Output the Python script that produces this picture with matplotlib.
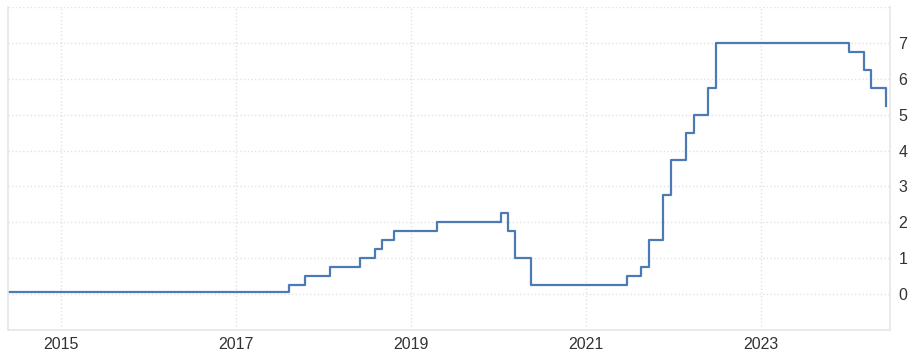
import matplotlib
matplotlib.use('Agg')
import matplotlib.pyplot as plt
import matplotlib.dates as mdates
import pandas as pd

# policy rate changes (date the new level starts, level in %)
dates = ['2014-05-24', '2017-08-11', '2017-10-14', '2018-01-29', '2018-06-02',
         '2018-08-04', '2018-09-01', '2018-10-21', '2019-04-20', '2020-01-10',
         '2020-02-08', '2020-03-11', '2020-05-15', '2021-06-19', '2021-08-19',
         '2021-09-20', '2021-11-19', '2021-12-22', '2022-02-22', '2022-03-25',
         '2022-05-26', '2022-06-27', '2024-01-01', '2024-03-05', '2024-04-05',
         '2024-06-06']
rates = [0.05, 0.25, 0.5, 0.75, 1.0,
         1.25, 1.5, 1.75, 2.0, 2.25,
         1.75, 1.0, 0.25, 0.5, 0.75,
         1.5, 2.75, 3.75, 4.5, 5.0,
         5.75, 7.0, 6.75, 6.25, 5.75,
         5.25]
year_ticks = ['2015', '2017', '2019', '2021', '2023']
y_ticks = [-1, 0, 1, 2, 3, 4, 5, 6, 7, 8]

plt.rcParams['font.family'] = ['Liberation Sans', 'DejaVu Sans']

x = pd.to_datetime(dates)

fig = plt.figure(figsize=(9.14, 3.54), dpi=100)
ax = fig.add_axes([8/914, 24/354, 882/914, 323/354])

ax.step(x, rates, where='post', color='#4c7ab5', lw=1.6)

ax.set_xlim(pd.Timestamp('2014-05-24'), pd.Timestamp('2024-06-22'))
ax.set_ylim(-1, 8)

ax.set_xticks(pd.to_datetime([y + '-01-01' for y in year_ticks]))
ax.xaxis.set_major_formatter(mdates.DateFormatter('%Y'))
ax.set_yticks(y_ticks)
ax.set_yticklabels(['' if v in (-1, 8) else str(v) for v in y_ticks])

ax.yaxis.tick_right()
ax.tick_params(axis='both', length=0, labelsize=11.5, colors='#333333')
ax.tick_params(axis='y', pad=6)
ax.tick_params(axis='x', pad=5)

ax.grid(True, color='#e2e2e2', ls=':', lw=1)
ax.set_axisbelow(True)
for side in ['left', 'right', 'bottom']:
    ax.spines[side].set_color('#e6e6e6')
    ax.spines[side].set_linewidth(1.2)
ax.spines['top'].set_visible(False)

plt.savefig('out.png', dpi=100)
plt.close()
